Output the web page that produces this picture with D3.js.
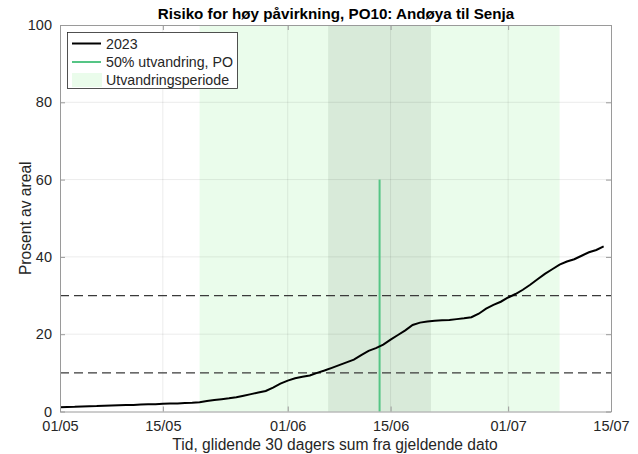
<!DOCTYPE html>
<html>
<head>
<meta charset="utf-8">
<script src="https://cdn.jsdelivr.net/npm/d3@7"></script>
<style>
  body { margin: 0; background: #fff; }
  text { font-family: "Liberation Sans", Arial, Helvetica, sans-serif; }
</style>
</head>
<body>
<div id="chart"></div>
<script>
var width = 638;
var height = 454;

// daily values, 01/05 .. 14/07 2023 (percent of area)
var values2023 = [
  1.1, 1.15, 1.2, 1.3, 1.35, 1.4, 1.5, 1.55, 1.6, 1.65,
  1.7, 1.8, 1.85, 1.9, 2.0, 2.05, 2.1, 2.2, 2.25, 2.4,
  2.7, 3.0, 3.2, 3.4, 3.7, 4.1, 4.5, 4.9, 5.3, 6.2,
  7.2, 8.0, 8.6, 9.0, 9.3, 10.0, 10.6, 11.3, 12.0, 12.7,
  13.4, 14.6, 15.7, 16.4, 17.3, 18.6, 19.8, 21.0, 22.4, 23.0,
  23.3, 23.5, 23.6, 23.7, 23.9, 24.1, 24.4, 25.3, 26.6, 27.6,
  28.4, 29.5, 30.4, 31.5, 32.8, 34.2, 35.6, 36.8, 38.0, 38.8,
  39.4, 40.3, 41.2, 41.8, 42.7
];
var startDate = new Date(2023, 4, 1);
var migrationPeriod = [new Date(2023, 4, 20), new Date(2023, 6, 8)];
var peakPeriod = [new Date(2023, 5, 6, 12), new Date(2023, 5, 20, 12)];
var fiftyPct = new Date(2023, 5, 13, 12);
var fiftyPctHeight = 60;
var thresholds = [10, 30];
var xTicks = [new Date(2023, 4, 1), new Date(2023, 4, 15), new Date(2023, 5, 1),
              new Date(2023, 5, 15), new Date(2023, 6, 1), new Date(2023, 6, 15)];
var yTicks = [0, 20, 40, 60, 80, 100];
var legendLabels = ["2023", "50% utvandring, PO", "Utvandringsperiode"];

var data = values2023.map(function(v, i) {
  return { date: d3.timeDay.offset(startDate, i), value: v };
});

var plotLeft = 60, plotRight = 611, plotTop = 25, plotBottom = 411.5;

var x = d3.scaleTime()
  .domain([new Date(2023, 4, 1), new Date(2023, 6, 15)])
  .range([plotLeft, plotRight]);
var y = d3.scaleLinear().domain([0, 100]).range([plotBottom, plotTop]);

var svg = d3.select("#chart").append("svg")
  .attr("width", width)
  .attr("height", height);

// shaded periods
svg.append("rect")
  .attr("x", x(migrationPeriod[0]))
  .attr("y", plotTop)
  .attr("width", x(migrationPeriod[1]) - x(migrationPeriod[0]))
  .attr("height", plotBottom - plotTop)
  .attr("fill", "#eafceb");
svg.append("rect")
  .attr("x", x(peakPeriod[0]))
  .attr("y", plotTop)
  .attr("width", x(peakPeriod[1]) - x(peakPeriod[0]))
  .attr("height", plotBottom - plotTop)
  .attr("fill", "#d8ead9");

// grid
svg.append("g").selectAll("line").data(xTicks.slice(1, -1)).enter().append("line")
  .attr("x1", function(d) { return x(d); })
  .attr("x2", function(d) { return x(d); })
  .attr("y1", plotTop).attr("y2", plotBottom)
  .attr("stroke", "#000").attr("stroke-opacity", 0.08);
svg.append("g").selectAll("line").data(yTicks.slice(1, -1)).enter().append("line")
  .attr("x1", plotLeft).attr("x2", plotRight)
  .attr("y1", function(d) { return y(d); })
  .attr("y2", function(d) { return y(d); })
  .attr("stroke", "#000").attr("stroke-opacity", 0.08);

// thresholds
svg.append("g").selectAll("line").data(thresholds).enter().append("line")
  .attr("x1", plotLeft).attr("x2", plotRight)
  .attr("y1", function(d) { return y(d); })
  .attr("y2", function(d) { return y(d); })
  .attr("stroke", "#3a3a3a")
  .attr("stroke-width", 1.2)
  .attr("stroke-dasharray", "9,5");

// 50% line
svg.append("line")
  .attr("x1", x(fiftyPct)).attr("x2", x(fiftyPct))
  .attr("y1", y(0)).attr("y2", y(fiftyPctHeight))
  .attr("stroke", "#55c585")
  .attr("stroke-width", 2);

// 2023 curve
var line = d3.line()
  .x(function(d) { return x(d.date); })
  .y(function(d) { return y(d.value); });
svg.append("path")
  .datum(data)
  .attr("d", line)
  .attr("fill", "none")
  .attr("stroke", "#000")
  .attr("stroke-width", 2);

// axes
var xAxis = d3.axisBottom(x).tickValues(xTicks).tickFormat(d3.timeFormat("%d/%m"))
  .tickSizeInner(-5).tickSizeOuter(0).tickPadding(9);
var yAxis = d3.axisLeft(y).tickValues(yTicks)
  .tickSizeInner(-5).tickSizeOuter(0).tickPadding(8);

var gx = svg.append("g").attr("transform", "translate(0," + plotBottom + ")").call(xAxis);
var gy = svg.append("g").attr("transform", "translate(" + plotLeft + ",0)").call(yAxis);
var gx2 = svg.append("g").attr("transform", "translate(0," + plotTop + ")")
  .call(d3.axisTop(x).tickValues(xTicks).tickSizeInner(-5).tickSizeOuter(0).tickFormat(""));
var gy2 = svg.append("g").attr("transform", "translate(" + plotRight + ",0)")
  .call(d3.axisRight(y).tickValues(yTicks).tickSizeInner(-5).tickSizeOuter(0).tickFormat(""));

[gx, gy, gx2, gy2].forEach(function(g) {
  g.select(".domain").attr("stroke", "#9a9a9a");
  g.selectAll(".tick line").attr("stroke", "#9a9a9a");
  g.selectAll(".tick text").attr("fill", "#262626").style("font-size", "14.5px")
    .style("font-family", "'Liberation Sans', Arial, sans-serif");
});

// title and labels
svg.append("text")
  .attr("x", 336)
  .attr("y", 19)
  .attr("text-anchor", "middle")
  .style("font-size", "15.2px")
  .style("font-weight", "bold")
  .text("Risiko for høy påvirkning, PO10: Andøya til Senja");

svg.append("text")
  .attr("x", 335)
  .attr("y", 450)
  .attr("text-anchor", "middle")
  .attr("fill", "#262626")
  .style("font-size", "15.6px")
  .text("Tid, glidende 30 dagers sum fra gjeldende dato");

svg.append("text")
  .attr("transform", "translate(31," + ((plotTop + plotBottom) / 2) + ") rotate(-90)")
  .attr("text-anchor", "middle")
  .attr("fill", "#262626")
  .style("font-size", "15.6px")
  .text("Prosent av areal");

// legend
var legend = svg.append("g");
legend.append("rect")
  .attr("x", 67.5).attr("y", 32.5)
  .attr("width", 170).attr("height", 56)
  .attr("fill", "#fff")
  .attr("stroke", "#262626")
  .attr("stroke-width", 0.8);
var ly = [43.5, 62, 80];
legend.append("line")
  .attr("x1", 72).attr("x2", 101).attr("y1", ly[0]).attr("y2", ly[0])
  .attr("stroke", "#000").attr("stroke-width", 2);
legend.append("line")
  .attr("x1", 72).attr("x2", 101).attr("y1", ly[1]).attr("y2", ly[1])
  .attr("stroke", "#55c585").attr("stroke-width", 2);
legend.append("rect")
  .attr("x", 72).attr("y", 73).attr("width", 30).attr("height", 14)
  .attr("fill", "#eafceb");
legend.selectAll("text.lab").data(legendLabels).enter().append("text")
  .attr("class", "lab")
  .attr("x", 106)
  .attr("y", function(d, i) { return ly[i] + 5; })
  .attr("fill", "#262626")
  .style("font-size", "14.2px")
  .text(function(d) { return d; });
</script>
</body>
</html>
